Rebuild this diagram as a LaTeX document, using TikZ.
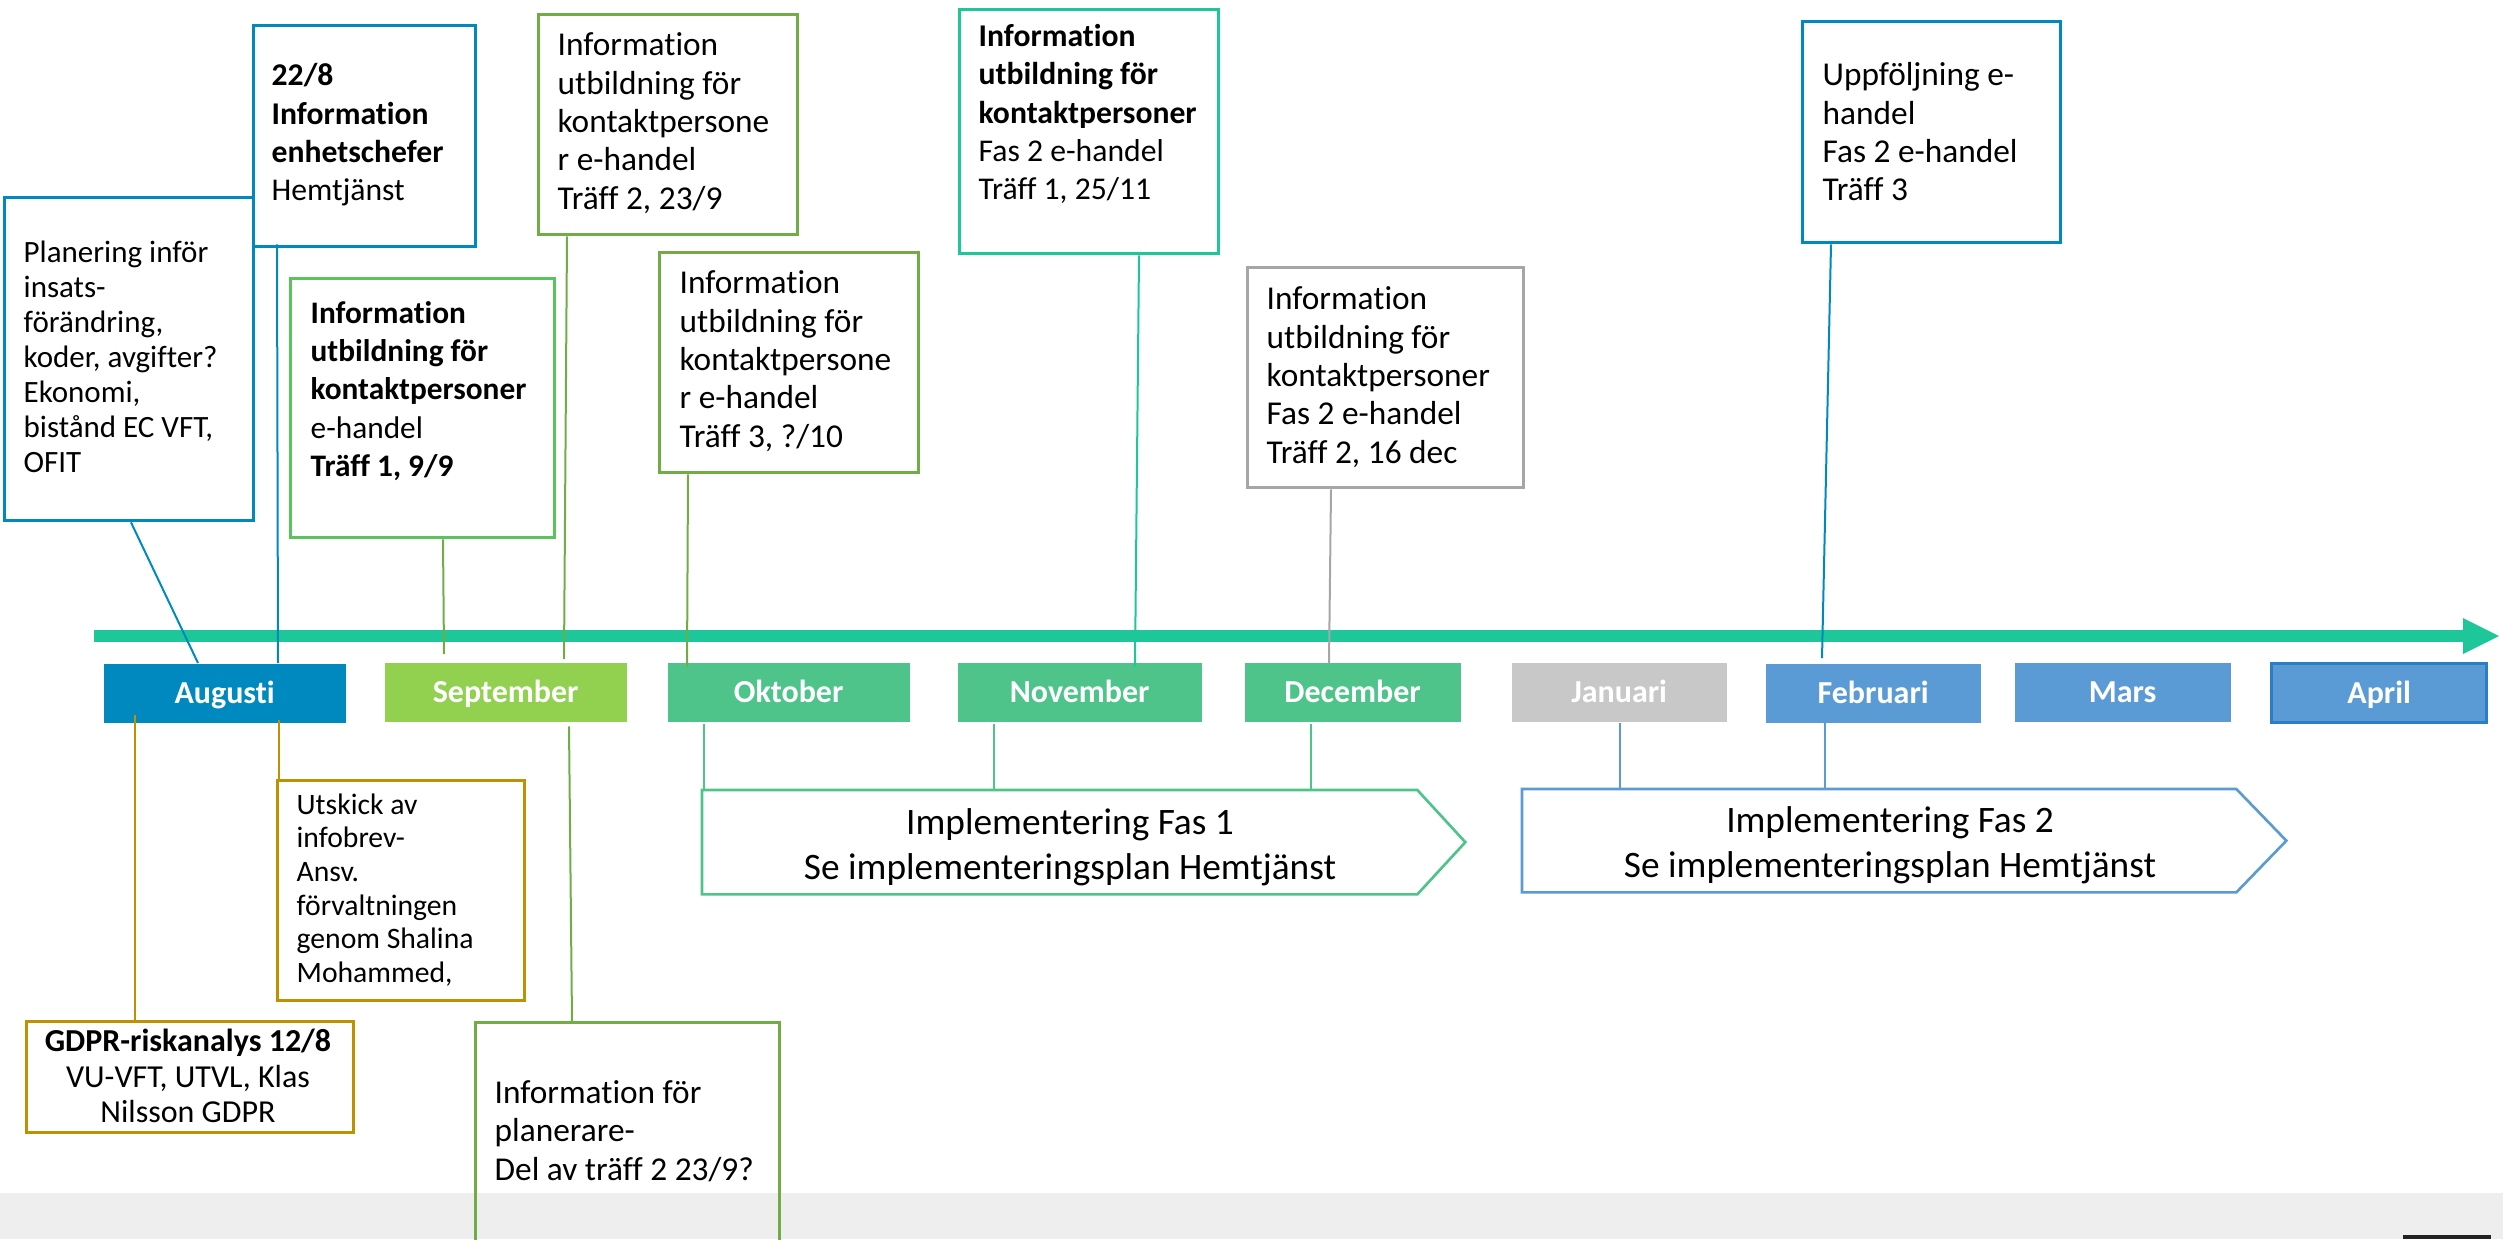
\documentclass[tikz,border=0pt]{standalone}
\usepackage{fontspec}
\setmainfont{Carlito}[Ligatures=NoCommon]
\usetikzlibrary{calc}
\definecolor{blueC}{HTML}{0089BF}
\definecolor{greenA}{HTML}{5BC35B}
\definecolor{greenB}{HTML}{70AD47}
\definecolor{tealC}{HTML}{1DC799}
\definecolor{grayC}{HTML}{A6A6A6}
\definecolor{goldC}{HTML}{BF9000}
\definecolor{octC}{HTML}{4EC48B}
\definecolor{sepC}{HTML}{92D050}
\definecolor{janC}{HTML}{C8C8C8}
\definecolor{febC}{HTML}{5B9BD5}
\definecolor{aprC}{HTML}{2A7EC4}
\definecolor{bandC}{HTML}{EEEEEE}
\definecolor{darkC}{HTML}{222222}
\begin{document}
\begin{tikzpicture}[x=0.3pt,y=-0.3pt,
  ebox/.style={draw, line width=1pt, inner sep=0pt, anchor=north west},
  month/.style={inner sep=0pt, anchor=north west, minimum height=59*0.3pt, text=white,
    text height=6.3pt, text depth=0pt,
    font=\bfseries\fontsize{9.6}{11}\selectfont},
  txt/.style={inner sep=0pt, anchor=west, align=left, font=\fontsize{10}{11.5}\selectfont},
  btxt/.style={inner sep=0pt, anchor=west, align=left, font=\fontsize{9.5}{11.5}\selectfont},
  conn/.style={line width=0.6pt},
  fconn/.style={line width=0.4pt},
  fas/.style={inner sep=0pt, anchor=north west},
  fastxt/.style={inner sep=0pt, align=center, font=\fontsize{11.2}{13.5}\selectfont}]
\useasboundingbox (0,0) rectangle (2503,1239);
\clip (0,0) rectangle (2503,1239);
% bottom band
\fill[bandC] (0,1193) rectangle (2503,1239);
\fill[darkC] (2403,1235) rectangle (2491,1239);

% timeline arrow
\draw[tealC, line width=3.6pt] (94,636) -- (2463,636);
\fill[tealC] (2463,618) -- (2499,636) -- (2463,654) -- cycle;

% month boxes
\node[month, fill=blueC, minimum width=242*0.3pt] (aug) at (103,663) {Augusti};
\node[month, fill=sepC, minimum width=242*0.3pt] (sep) at (384,662) {September};
\node[month, fill=octC, minimum width=242*0.3pt] (okt) at (667,662) {Oktober};
\node[month, fill=octC, minimum width=244*0.3pt] (nov) at (957,662) {November};
\node[month, fill=octC, minimum width=216*0.3pt] (dec) at (1244,662) {December};
\node[month, fill=janC, minimum width=215*0.3pt] (jan) at (1511,662) {Januari};
\node[month, fill=febC, minimum width=215*0.3pt] (feb) at (1765,663) {Februari};
\node[month, fill=febC, minimum width=216*0.3pt] (mar) at (2014,662) {Mars};
\node[month, fill=febC, draw=aprC, line width=1pt, minimum width=215*0.3pt] (apr) at (2270,662) {April};

% top boxes
\node[ebox, draw=blueC, minimum width=249*0.3pt, minimum height=323*0.3pt] (plan) at (3,196) {};
\node[txt, font=\fontsize{9.3}{10.5}\selectfont] (plant) at (23,357) {Planering inför\\insats-\\förändring,\\koder, avgifter?\\Ekonomi,\\bistånd EC VFT,\\OFIT};

\node[ebox, draw=blueC, minimum width=222*0.3pt, minimum height=221*0.3pt] (b228) at (252,24) {};
\node[btxt] (b228t) at (271,135) {\textbf{22/8}\\\textbf{Information}\\\textbf{enhetschefer}\\Hemtjänst};

\node[ebox, draw=greenA, minimum width=264*0.3pt, minimum height=259*0.3pt] (t1) at (289,277) {};
\node[btxt, font=\fontsize{9.4}{11.5}\selectfont] (t1t) at (310,391) {\textbf{Information}\\\textbf{utbildning för}\\\textbf{kontaktpersoner}\\e-handel\\\textbf{Träff 1, 9/9}};

\node[ebox, draw=greenB, minimum width=259*0.3pt, minimum height=220*0.3pt] (t2) at (537,13) {};
\node[txt] (t2t) at (557,123) {Information\\utbildning för\\kontaktpersone\\r e-handel\\Träff 2, 23/9};

\node[ebox, draw=greenB, minimum width=259*0.3pt, minimum height=220*0.3pt] (t3) at (658,251) {};
\node[txt] (t3t) at (679,361) {Information\\utbildning för\\kontaktpersone\\r e-handel\\Träff 3, ?/10};

\node[ebox, draw=tealC, minimum width=259*0.3pt, minimum height=244*0.3pt] (f1) at (958,8) {};
\node[btxt] (f1t) at (978,114) {\textbf{Information}\\\textbf{utbildning för}\\\textbf{kontaktpersoner}\\Fas 2 e-handel\\Träff 1, 25/11};

\node[ebox, draw=grayC, minimum width=276*0.3pt, minimum height=220*0.3pt] (f2) at (1246,266) {};
\node[txt] (f2t) at (1266,377) {Information\\utbildning för\\kontaktpersoner\\Fas 2 e-handel\\Träff 2, 16 dec};

\node[ebox, draw=blueC, minimum width=258*0.3pt, minimum height=221*0.3pt] (upp) at (1801,20) {};
\node[txt] (uppt) at (1822,132) {Uppföljning e-\\handel\\Fas 2 e-handel\\Träff 3};

% bottom boxes
\node[ebox, draw=goldC, minimum width=327*0.3pt, minimum height=111*0.3pt] (gdpr) at (25,1020) {};
\node[inner sep=0pt, align=center, font=\fontsize{9.6}{10.6}\selectfont] (gdprt) at (188,1076) {\textbf{GDPR-riskanalys 12/8}\\VU-VFT, UTVL, Klas\\Nilsson GDPR};

\node[ebox, draw=goldC, minimum width=247*0.3pt, minimum height=220*0.3pt] (utsk) at (276,779) {};
\node[txt, font=\fontsize{8.9}{10.1}\selectfont] (utskt) at (296,890) {Utskick av\\infobrev-\\Ansv.\\förvaltningen\\genom Shalina\\Mohammed,};

\node[ebox, draw=greenB, minimum width=304*0.3pt, minimum height=240*0.3pt] (plr) at (474,1021) {};
\node[txt, font=\fontsize{10}{11.6}\selectfont] (plrt) at (494,1131) {Information för\\planerare-\\Del av träff 2 23/9?};

% implementation chevrons
\node[fas, minimum width=714*0.3pt, minimum height=103*0.3pt] (fas1) at (702,790) {};
\draw[octC, line width=0.8pt] (fas1.north west) -- (fas1.north east) -- ($(fas1.east)+(48,0)$) -- (fas1.south east) -- (fas1.south west) -- cycle;
\node[fastxt] (fas1t) at (1070,847) {Implementering Fas 1\\Se implementeringsplan Hemtjänst};

\node[fas, minimum width=713*0.3pt, minimum height=102*0.3pt] (fas2) at (1522,789) {};
\draw[febC, line width=0.8pt] (fas2.north west) -- (fas2.north east) -- ($(fas2.east)+(50,0)$) -- (fas2.south east) -- (fas2.south west) -- cycle;
\node[fastxt] (fas2t) at (1890,845) {Implementering Fas 2\\Se implementeringsplan Hemtjänst};

% connectors top
\draw[conn, blueC] ($(plan.south west)+(128,0)$) -- ($(aug.north west)+(95,0)$);
\draw[conn, blueC] ($(b228.south west)+(25,-4)$) -- ($(aug.north west)+(175,0)$);
\draw[conn, greenB] ($(t1.south west)+(154,0)$) -- ($(sep.north west)+(60,-8)$);
\draw[conn, greenB] ($(t2.south west)+(30,0)$) -- ($(sep.north west)+(180,-3)$);
\draw[conn, greenB] ($(t3.south west)+(30,0)$) -- ($(okt.north west)+(20,5)$);
\draw[conn, tealC] ($(f1.south west)+(181,0)$) -- ($(nov.north west)+(178,4)$);
\draw[conn, grayC] ($(f2.south west)+(85,0)$) -- ($(dec.north west)+(85,1)$);
\draw[conn, blueC] ($(upp.south west)+(30,0)$) -- ($(feb.north west)+(57,-5)$);

% connectors bottom
\draw[conn, goldC] ($(aug.south west)+(32,-8)$) -- ($(gdpr.north west)+(110,0)$);
\draw[conn, goldC] ($(aug.south west)+(176,-3)$) -- ($(utsk.north west)+(3,0)$);
\draw[conn, greenB] ($(sep.south west)+(185,4)$) -- ($(plr.north west)+(98,0)$);

\draw[fconn, octC] ($(okt.south west)+(37,2)$) -- ($(fas1.north west)+(2,0)$);
\draw[fconn, octC] ($(nov.south west)+(37,2)$) -- ($(fas1.north west)+(292,0)$);
\draw[fconn, octC] ($(dec.south west)+(67,2)$) -- ($(fas1.north west)+(609,0)$);
\draw[fconn, febC] ($(jan.south west)+(109,1)$) -- ($(fas2.north west)+(98,0)$);
\draw[fconn, febC] ($(feb.south west)+(60,0)$) -- ($(fas2.north west)+(303,0)$);
\end{tikzpicture}
\end{document}
